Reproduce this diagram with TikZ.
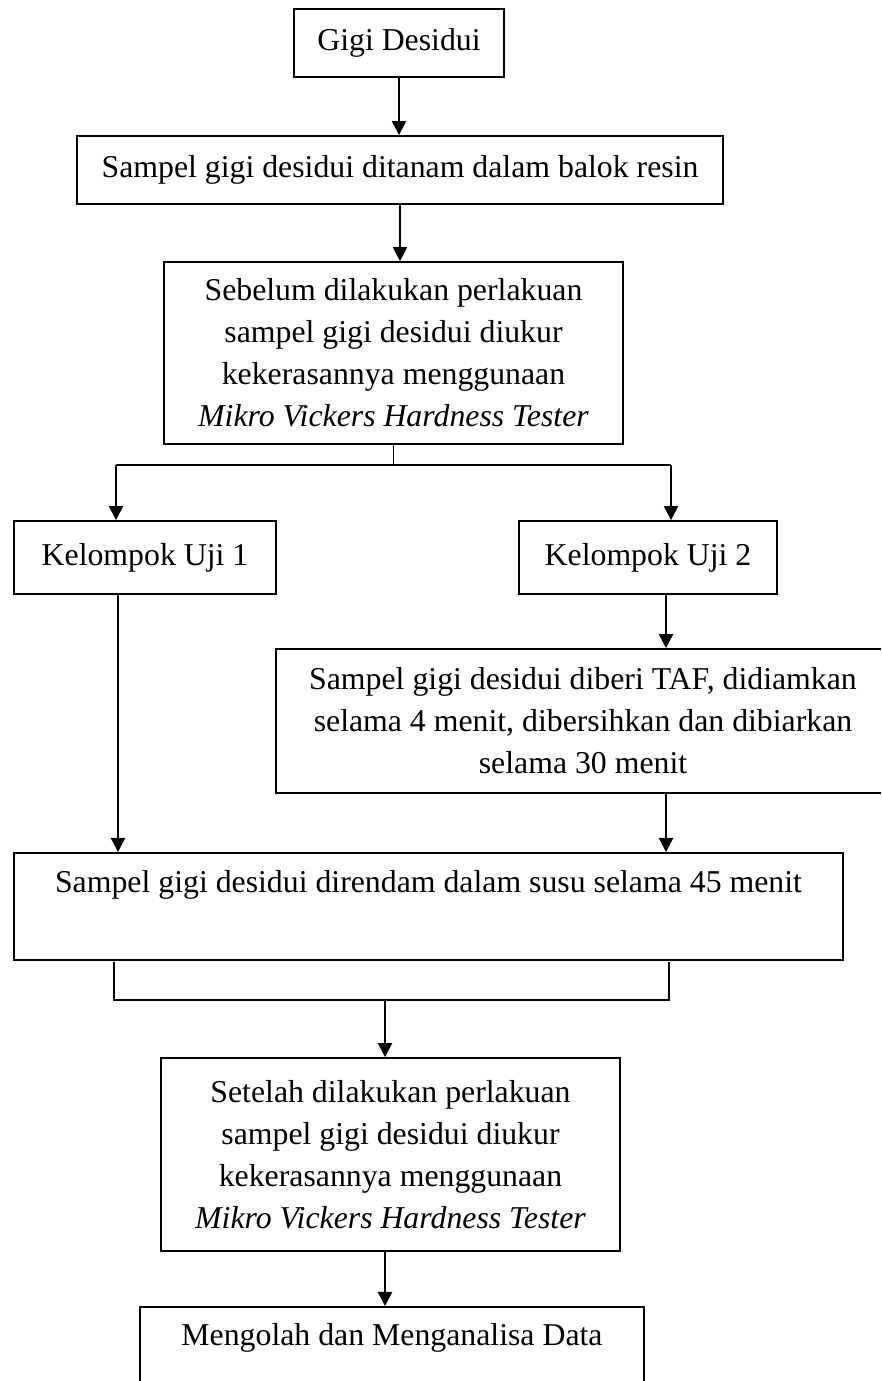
\documentclass[tikz,border=0pt]{standalone}
\usepackage{fontspec}
\setmainfont{Liberation Serif}
\usetikzlibrary{arrows.meta}
\newcommand{\pxu}{0.3775pt}

\begin{document}
\begin{tikzpicture}[x=\pxu, y=-\pxu,
  kotak/.style={draw, line width=0.7pt, inner sep=0pt, font=\fontsize{12}{15.9}\selectfont},
  panah/.style={line width=0.9pt, -{Triangle[length=5.3pt, width=5.3pt]}}]
  % ----- Page frame -----
  \useasboundingbox (0,0) rectangle (881,1381);
  \clip (0,0) rectangle (881,1381);

  % ----- Boxes -----
  \node[kotak, minimum width=210*\pxu, minimum height=68*\pxu] (gigi) at (399,43) {Gigi Desidui};
  \node[kotak, minimum width=646*\pxu, minimum height=68*\pxu] (resin) at (400,170) {Sampel gigi desidui ditanam dalam balok resin};
  \node[kotak, align=center, minimum width=459*\pxu, minimum height=182*\pxu] (sebelum) at (393.5,353)
    {Sebelum dilakukan perlakuan\\ sampel gigi desidui diukur\\ kekerasannya menggunaan\\ \textit{Mikro Vickers Hardness Tester}};
  \node[kotak, minimum width=262*\pxu, minimum height=73*\pxu] (uji1) at (145,557.5) {Kelompok Uji 1};
  \node[kotak, minimum width=258*\pxu, minimum height=73*\pxu] (uji2) at (648,557.5) {Kelompok Uji 2};
  \node[kotak, align=center, minimum width=614*\pxu, minimum height=144*\pxu] (taf) at (583,721)
    {Sampel gigi desidui diberi TAF, didiamkan\\ selama 4 menit, dibersihkan dan dibiarkan\\ selama 30 menit};
  \node[kotak, anchor=north, minimum width=829*\pxu, text height=15.1pt, text depth=25.3pt] (rendam) at (428.5,852)
    {Sampel gigi desidui direndam dalam susu selama 45 menit};
  \node[kotak, align=center, minimum width=459*\pxu, minimum height=193*\pxu] (setelah) at (390.5,1154.5)
    {Setelah dilakukan perlakuan\\ sampel gigi desidui diukur\\ kekerasannya menggunaan\\ \textit{Mikro Vickers Hardness Tester}};
  \node[kotak, anchor=north, minimum width=504*\pxu, text height=14.7pt, text depth=40pt] (olah) at (392,1306)
    {Mengolah dan Menganalisa Data};

  % ----- Helper points -----
  \coordinate (bagiL) at (116,465);
  \coordinate (bagiR) at (671,465);
  \coordinate (jalurL) at (118,594);
  \coordinate (jalurR) at (666,594);
  \coordinate (gabL) at (114,1000);
  \coordinate (gabR) at (669,1000);
  \coordinate (gabM) at (385,1000);

  % ----- Connectors -----
  \draw[panah] (gigi.south) -- (gigi.south |- resin.north);
  \draw[panah] (resin.south) -- (resin.south |- sebelum.north);
  \draw[line width=0.7pt] (sebelum.south) -- (sebelum.south |- bagiL);
  \draw[line width=0.9pt] (bagiL) -- (bagiR);
  \draw[panah] (bagiL) -- (bagiL |- uji1.north);
  \draw[panah] (bagiR) -- (bagiR |- uji2.north);
  \draw[panah] (uji1.south -| jalurL) -- (jalurL |- rendam.north);
  \draw[panah] (uji2.south -| jalurR) -- (jalurR |- taf.north);
  \draw[panah] (taf.south -| jalurR) -- (jalurR |- rendam.north);
  \draw[line width=0.6pt] (gabL) ++(0,-38) -- (gabL) -- (gabR) -- ++(0,-38);
  \draw[panah] (gabM) -- (gabM |- setelah.north);
  \draw[panah] (setelah.south -| gabM) -- (gabM |- olah.north);
\end{tikzpicture}
\end{document}
